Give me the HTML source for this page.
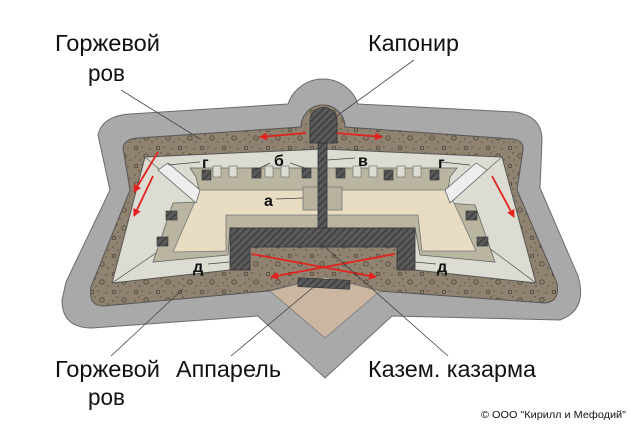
<!DOCTYPE html>
<html><head><meta charset="utf-8"><style>
html,body{margin:0;padding:0;background:#fff;width:630px;height:426px;overflow:hidden}
svg{display:block}
.t{font-family:"Liberation Sans",sans-serif;font-size:23px;fill:#111}
.b{font-family:"Liberation Sans",sans-serif;font-size:16px;font-weight:bold;fill:#111}
</style></head><body>
<svg width="630" height="426" viewBox="0 0 630 426" xmlns="http://www.w3.org/2000/svg">
<defs>
<pattern id="h" width="5" height="5" patternUnits="userSpaceOnUse" patternTransform="rotate(45)">
<rect width="5" height="5" fill="#5a5a5a"/><rect width="1.3" height="5" fill="#3a3a3a"/></pattern>
<pattern id="d" width="22" height="18" patternUnits="userSpaceOnUse">
<rect width="22" height="18" fill="#8f8270"/>
<circle cx="4" cy="4" r="1.8" fill="none" stroke="#3d3428" stroke-width="0.7"/>
<circle cx="14" cy="12" r="2.2" fill="none" stroke="#3d3428" stroke-width="0.7"/>
<circle cx="10" cy="3" r="0.6" fill="#3d3428"/><circle cx="18" cy="5" r="0.6" fill="#3d3428"/>
<circle cx="3" cy="13" r="0.6" fill="#3d3428"/><circle cx="8" cy="16" r="0.6" fill="#3d3428"/>
<circle cx="20" cy="16" r="0.6" fill="#3d3428"/><circle cx="7" cy="9" r="0.6" fill="#3d3428"/>
</pattern>
<marker id="ar" markerWidth="8" markerHeight="8" refX="7" refY="4" orient="auto" markerUnits="userSpaceOnUse">
<path d="M0,0 L8,4 L0,8 Z" fill="#e3231b"/></marker>
</defs>

<path d="M98,135 Q102,116 130,114 L288,104 A37,37 0 0 1 358,104 L515,112 Q542,116 542,140 L540,188 L578,276 Q588,310 560,320 L392,316 L325,378 L258,316 L92,328 Q62,328 62,300 L66,282 L110,190 Z" fill="#a9a9a9" stroke="#6c6c6c" stroke-width="1"/>
<path d="M123,148 Q124,139 138,138 L301,127 A22,22 0 0 1 345,127 L512,139 Q524,140 523,150 L517,190 L557,283 Q560,302 545,303 L380,291 L325,277 L268,291 L103,306 Q88,306 91,287 L130,190 Z" fill="url(#d)" stroke="#555" stroke-width="1"/>
<path d="M270,291 L325,277 L380,291 L325,338 Z" fill="#cbb6a1" stroke="#777" stroke-width="0.8"/>
<path d="M112,283 L145,157 L323,149 L502,157 L536,283 L415,270 L397,255 L250,255 L230,270 Z" fill="#dcdcd3" stroke="#555" stroke-width="1"/>
<path d="M112,283 L175,240 M536,283 L485,245 M145,157 L160,170 M502,157 L487,170" stroke="#666" stroke-width="0.8" fill="none"/>
<path d="M190,168 L457,168 L450,177 L446,203 L475,205 L495,262 L420,255 L415,228 L230,228 L228,255 L153,262 L173,203 L202,202 L196,177 Z" fill="#b9b5a0" stroke="#666" stroke-width="0.8"/>
<path d="M200,190 L448,190 L476,251 L422,251 L418,215 L226,215 L226,251 L173,252 Z" fill="#e8dcc2" stroke="#777" stroke-width="0.8"/>
<g fill="#dcdcd3" stroke="#666" stroke-width="0.6">
<rect x="213" y="166" width="8" height="11"/><rect x="229" y="166" width="8" height="11"/><rect x="265" y="166" width="8" height="11"/><rect x="281" y="166" width="8" height="11"/>
<rect x="353" y="166" width="8" height="11"/><rect x="369" y="166" width="8" height="11"/><rect x="397" y="166" width="8" height="11"/><rect x="413" y="166" width="8" height="11"/>
</g>
<g fill="url(#h)" stroke="#333" stroke-width="0.6">
<rect x="202" y="170" width="9" height="10"/><rect x="252" y="168" width="9" height="10"/><rect x="302" y="168" width="9" height="10"/><rect x="336" y="168" width="9" height="10"/><rect x="384" y="170" width="9" height="10"/><rect x="430" y="170" width="9" height="10"/>
<rect x="166" y="211" width="11" height="9"/><rect x="157" y="237" width="11" height="9"/><rect x="466" y="211" width="11" height="9"/><rect x="477" y="237" width="11" height="9"/>
</g>
<path d="M158,170 L168,163 L200,190 L196,203 Z" fill="#eee" stroke="#555" stroke-width="0.7"/>
<path d="M487,170 L476,163 L445,190 L450,203 Z" fill="#eee" stroke="#555" stroke-width="0.7"/>
<path d="M250,247 L397,247 L397,275 L325,277 L262,289 L250,270 Z" fill="url(#d)"/>
<path d="M230,228 L415,228 L415,270 L397,270 L397,247 L250,247 L250,270 L230,270 Z" fill="url(#h)" stroke="#333" stroke-width="0.8"/>
<rect x="298" y="279" width="52" height="9" fill="url(#h)" stroke="#333" stroke-width="0.6" transform="rotate(3 324 283)"/>
<path d="M310,143 L310,121 A13.5,13.5 0 0 1 337,121 L337,143 Z" fill="url(#h)" stroke="#333" stroke-width="0.8"/>
<rect x="303" y="187" width="39" height="23" fill="#b8b29f" stroke="#777" stroke-width="0.8"/>
<rect x="318" y="143" width="9" height="85" fill="url(#h)" stroke="#333" stroke-width="0.8"/>

<g stroke="#e3231b" stroke-width="1.8" fill="none">
<line x1="306" y1="133" x2="260" y2="137" marker-end="url(#ar)"/>
<line x1="337" y1="133" x2="382" y2="137" marker-end="url(#ar)"/>
<line x1="158" y1="152" x2="134" y2="192" marker-end="url(#ar)"/>
<line x1="153" y1="176" x2="134" y2="216" marker-end="url(#ar)"/>
<line x1="492" y1="176" x2="514" y2="217" marker-end="url(#ar)"/>
<line x1="252" y1="254" x2="376" y2="277" marker-end="url(#ar)"/>
<line x1="395" y1="254" x2="271" y2="277" marker-end="url(#ar)"/>
</g>

<g stroke="#444" stroke-width="0.8" fill="none">
<line x1="121" y1="90" x2="200" y2="139"/>
<line x1="414" y1="60" x2="334" y2="118"/>
<line x1="111" y1="356" x2="183" y2="289"/>
<line x1="231" y1="356" x2="322" y2="280"/>
<line x1="448" y1="356" x2="317" y2="240"/>
<line x1="168" y1="165" x2="200" y2="162"/><line x1="441" y1="162" x2="470" y2="165"/>
<line x1="270" y1="163" x2="256" y2="170"/><line x1="290" y1="163" x2="305" y2="168"/>
<line x1="355" y1="158" x2="327" y2="160"/>
<line x1="276" y1="199" x2="303" y2="198"/>
<line x1="208" y1="264" x2="230" y2="262"/><line x1="415" y1="262" x2="436" y2="264"/>
</g>

<g class="b">
<text x="202" y="168">г</text><text x="438" y="168">г</text>
<text x="274" y="166">б</text><text x="358" y="166">в</text>
<text x="264" y="206">а</text>
<text x="193" y="272">д</text><text x="437" y="272">д</text>
</g>

<g class="t">
<text x="55" y="51" textLength="105" lengthAdjust="spacingAndGlyphs">Горжевой</text>
<text x="88" y="81" textLength="37" lengthAdjust="spacingAndGlyphs">ров</text>
<text x="368" y="51" textLength="91" lengthAdjust="spacingAndGlyphs">Капонир</text>
<text x="55" y="377" textLength="105" lengthAdjust="spacingAndGlyphs">Горжевой</text>
<text x="88" y="405" textLength="37" lengthAdjust="spacingAndGlyphs">ров</text>
<text x="176" y="377" textLength="105" lengthAdjust="spacingAndGlyphs">Аппарель</text>
<text x="368" y="377" textLength="168" lengthAdjust="spacingAndGlyphs">Казем. казарма</text>
</g>
<text x="481" y="418" font-family="Liberation Sans, sans-serif" font-size="10.5" fill="#111" textLength="145" lengthAdjust="spacingAndGlyphs">© ООО "Кирилл и Мефодий"</text>
</svg>
</body></html>
